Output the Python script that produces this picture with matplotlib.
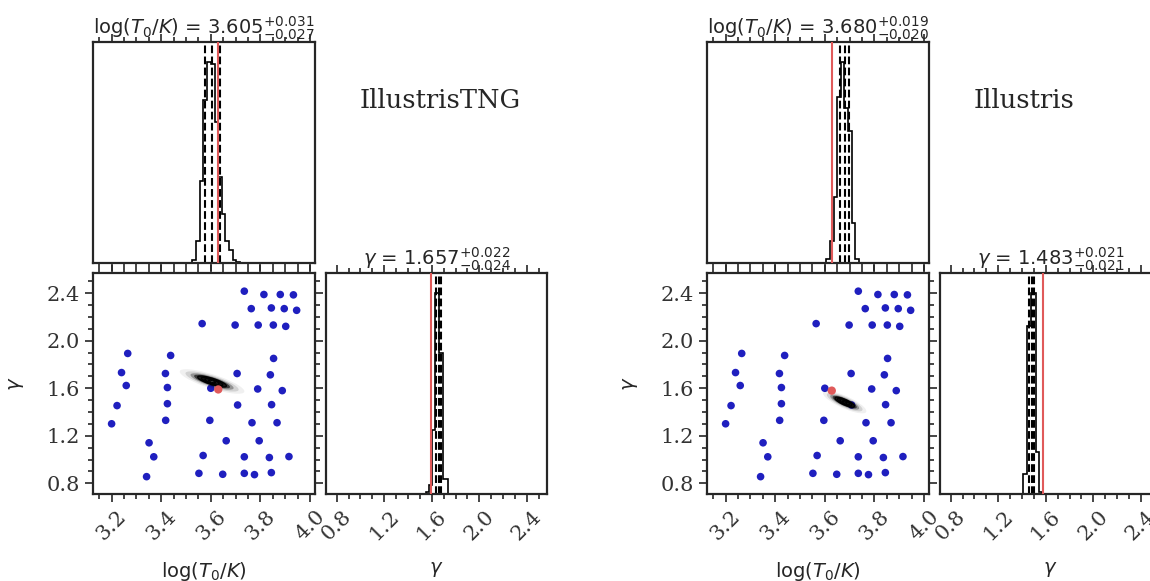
import numpy as np
import matplotlib.pyplot as plt
from matplotlib.patches import Ellipse
from matplotlib.ticker import MultipleLocator

plt.rcParams['font.family'] = 'DejaVu Serif'
plt.rcParams['mathtext.fontset'] = 'dejavusans'

# simulation grid (log T0, gamma), same for both panels
grid_logT = [3.200, 3.222, 3.240, 3.259, 3.265, 3.341, 3.351, 3.370, 3.417, 3.418,
             3.425, 3.425, 3.438, 3.552, 3.565, 3.569, 3.596, 3.600, 3.648, 3.662,
             3.698, 3.706, 3.708, 3.735, 3.735, 3.735, 3.763, 3.766, 3.776, 3.789,
             3.791, 3.795, 3.814, 3.836, 3.840, 3.844, 3.844, 3.845, 3.852, 3.853,
             3.867, 3.880, 3.888, 3.896, 3.902, 3.915, 3.933, 3.946]
grid_gamma = [1.301, 1.454, 1.732, 1.623, 1.893, 0.856, 1.141, 1.023, 1.724, 1.330,
              1.606, 1.470, 1.876, 0.884, 2.144, 1.034, 1.330, 1.600, 0.876, 1.158,
              2.132, 1.724, 1.459, 2.417, 1.023, 0.884, 2.270, 1.310, 0.873, 1.594,
              2.132, 1.158, 2.389, 1.017, 1.713, 2.276, 0.890, 1.462, 2.132, 1.851,
              1.310, 2.389, 1.580, 2.270, 2.121, 1.025, 2.386, 2.256]

names = ['IllustrisTNG', 'Illustris']
truth_logT = [3.630, 3.628]
truth_gamma = [1.590, 1.580]

# posterior summaries: median, -err, +err
logT_med = [3.605, 3.680]
logT_lo = [0.027, 0.020]
logT_hi = [0.031, 0.019]
gamma_med = [1.657, 1.483]
gamma_lo = [0.024, 0.021]
gamma_hi = [0.022, 0.021]
corr = [-0.8, -0.8]

# 1D marginal histograms (bin edges, counts)
tng_logT_edges = [3.526, 3.541, 3.555, 3.570, 3.585, 3.600, 3.615, 3.629, 3.644,
                  3.659, 3.674, 3.688, 3.703, 3.718]
tng_logT_counts = [1.5, 10, 37, 74, 91, 90, 64, 39, 22, 10, 6, 1.5, 0.5]
tng_gamma_edges = [1.550, 1.577, 1.604, 1.630, 1.664, 1.698, 1.735]
tng_gamma_counts = [1, 4, 29, 91, 64, 7]
ill_logT_edges = [3.606, 3.621, 3.636, 3.650, 3.665, 3.679, 3.694, 3.708, 3.723, 3.737]
ill_logT_counts = [2, 10, 30, 75, 91, 70, 60, 18, 2]
ill_gamma_edges = [1.412, 1.444, 1.474, 1.514, 1.544, 1.572]
ill_gamma_counts = [9, 76, 91, 19, 1]

hist_logT = [(tng_logT_edges, tng_logT_counts), (ill_logT_edges, ill_logT_counts)]
hist_gamma = [(tng_gamma_edges, tng_gamma_counts), (ill_gamma_edges, ill_gamma_counts)]

logT_lim = (3.125, 4.02)
gamma_lim = (0.71, 2.57)

W, H = 1150, 581
dark = '#262626'
blue = '#1f1fbf'
red = '#e05a5a'

fig = plt.figure(figsize=(W / 100, H / 100), dpi=100)


def px_axes(x0, y0, x1, y1):
    return fig.add_axes([x0 / W, 1 - y1 / H, (x1 - x0) / W, (y1 - y0) / H])


def style(ax):
    for s in ax.spines.values():
        s.set_linewidth(1.6)
        s.set_color(dark)
    ax.tick_params(which='both', direction='out', color=dark, width=1.2,
                   labelcolor='#333333', labelsize=15)
    ax.tick_params(which='major', length=6)
    ax.tick_params(which='minor', length=3.5)


def draw_hist(ax, edges, counts, quants, truth):
    ax.stairs(counts, edges, color='k', lw=1.2)
    for q in quants:
        ax.axvline(q, color='k', ls='--', lw=1.5)
    ax.axvline(truth, color=red, lw=1.5, zorder=5)
    ax.set_ylim(0, 1.1 * max(counts))
    ax.set_yticks([])


def draw_posterior(ax, mx, my, sx, sy, rho):
    cov = np.array([[sx ** 2, rho * sx * sy], [rho * sx * sy, sy ** 2]])
    vals, vecs = np.linalg.eigh(cov)
    ang = np.degrees(np.arctan2(vecs[1, 1], vecs[0, 1]))
    # faint outer samples
    for k, a in [(4.5, 0.06), (3.7, 0.12), (3.0, 0.3), (2.5, 0.6)]:
        ax.add_patch(Ellipse((mx, my), 2 * k * np.sqrt(vals[1]), 2 * k * np.sqrt(vals[0]),
                             angle=ang, facecolor='k', edgecolor='none', alpha=a, zorder=3))
    for k, fc in [(2.0, '#1a1a1a'), (1.5, '#111111'), (1.0, '#222222'), (0.5, '#aaaaaa')]:
        ax.add_patch(Ellipse((mx, my), 2 * k * np.sqrt(vals[1]), 2 * k * np.sqrt(vals[0]),
                             angle=ang, facecolor=fc, edgecolor='k', lw=0.9, zorder=4))


lefts = [93, 707]
for i in range(2):
    x0 = lefts[i]
    ax_t = px_axes(x0, 42, x0 + 222, 263)
    ax_s = px_axes(x0, 273, x0 + 222, 494)
    ax_g = px_axes(x0 + 233, 273, x0 + 454, 494)
    for ax in (ax_t, ax_s, ax_g):
        style(ax)

    # top: log T0 marginal
    edges, counts = hist_logT[i]
    m, lo, hi = logT_med[i], logT_lo[i], logT_hi[i]
    draw_hist(ax_t, edges, counts, [m - lo, m, m + hi], truth_logT[i])
    ax_t.set_xlim(logT_lim)
    ax_t.xaxis.set_major_locator(MultipleLocator(0.2))
    ax_t.xaxis.set_minor_locator(MultipleLocator(0.05))
    ax_t.tick_params(axis='x', which='both', top=True, bottom=True, labelbottom=False)
    ax_t.set_title(r'$\log(T_0/K)$ = $%.3f^{+%.3f}_{-%.3f}$' % (m, hi, lo),
                   fontsize=14, family='DejaVu Sans', color=dark, pad=5)

    # scatter: grid + posterior + truth
    ax_s.scatter(grid_logT, grid_gamma, s=30, color=blue, edgecolors='none', zorder=2)
    draw_posterior(ax_s, logT_med[i], gamma_med[i], (logT_lo[i] + logT_hi[i]) / 2,
                   (gamma_lo[i] + gamma_hi[i]) / 2, corr[i])
    ax_s.scatter([truth_logT[i]], [truth_gamma[i]], s=36, color=red, edgecolors='none', zorder=6)
    ax_s.set_xlim(logT_lim)
    ax_s.set_ylim(gamma_lim)
    ax_s.xaxis.set_major_locator(MultipleLocator(0.2))
    ax_s.xaxis.set_minor_locator(MultipleLocator(0.05))
    ax_s.yaxis.set_major_locator(MultipleLocator(0.4))
    ax_s.yaxis.set_minor_locator(MultipleLocator(0.1))
    ax_s.tick_params(which='both', top=True, right=True)
    ax_s.tick_params(axis='x', labelrotation=45)
    ax_s.set_xlabel(r'$\log(T_0/K)$', fontsize=14, family='DejaVu Sans', color=dark)
    ax_s.set_ylabel(r'$\gamma$', fontsize=14, family='DejaVu Sans', color=dark)
    ax_s.xaxis.set_label_coords(0.5, -0.3)
    ax_s.yaxis.set_label_coords(-0.3, 0.5)

    # right: gamma marginal
    edges, counts = hist_gamma[i]
    m, lo, hi = gamma_med[i], gamma_lo[i], gamma_hi[i]
    draw_hist(ax_g, edges, counts, [m - lo, m, m + hi], truth_gamma[i])
    ax_g.set_xlim(gamma_lim)
    ax_g.xaxis.set_major_locator(MultipleLocator(0.4))
    ax_g.xaxis.set_minor_locator(MultipleLocator(0.1))
    ax_g.tick_params(axis='x', which='both', top=True, bottom=True, labelrotation=45)
    ax_g.set_xlabel(r'$\gamma$', fontsize=14, family='DejaVu Sans', color=dark)
    ax_g.xaxis.set_label_coords(0.5, -0.3)
    ax_g.set_title(r'$\gamma$ = $%.3f^{+%.3f}_{-%.3f}$' % (m, hi, lo),
                   fontsize=14, family='DejaVu Sans', color=dark, pad=5)

    fig.text((x0 + 267) / W, 1 - 100 / H, names[i], fontsize=18.5, family='DejaVu Serif',
             color=dark, ha='left', va='center')

fig.savefig('out.png', dpi=100)
